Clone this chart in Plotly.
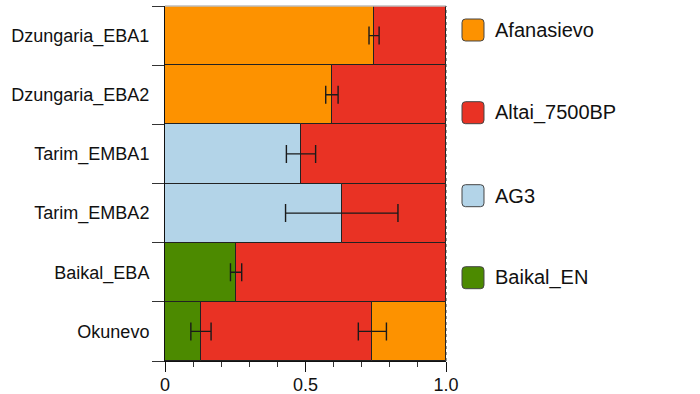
import plotly.graph_objects as go

# ---------------- data ----------------
populations = ["Dzungaria_EBA1", "Dzungaria_EBA2", "Tarim_EMBA1",
               "Tarim_EMBA2", "Baikal_EBA", "Okunevo"]
components = ["Afanasievo", "Altai_7500BP", "AG3", "Baikal_EN"]

afanasievo = [0.744, 0.594, 0.0, 0.0, 0.0, 0.262]
altai_7500bp = [0.256, 0.406, 0.516, 0.371, 0.747, 0.610]
ag3 = [0.0, 0.0, 0.484, 0.629, 0.0, 0.0]
baikal_en = [0.0, 0.0, 0.0, 0.0, 0.253, 0.128]

# left-to-right order of the components within each row
row_order = [
    ["Afanasievo", "Altai_7500BP"],
    ["Afanasievo", "Altai_7500BP"],
    ["AG3", "Altai_7500BP"],
    ["AG3", "Altai_7500BP"],
    ["Baikal_EN", "Altai_7500BP"],
    ["Baikal_EN", "Altai_7500BP", "Afanasievo"],
]

# standard errors: (row, component whose right edge carries the bar, se)
se_rows = ["Dzungaria_EBA1", "Dzungaria_EBA2", "Tarim_EMBA1",
           "Tarim_EMBA2", "Baikal_EBA", "Okunevo", "Okunevo"]
se_component = ["Afanasievo", "Afanasievo", "AG3", "AG3",
                "Baikal_EN", "Baikal_EN", "Altai_7500BP"]
se_values = [0.018, 0.022, 0.052, 0.20, 0.02, 0.036, 0.05]

tick_vals = [0, 0.5, 1.0]
tick_text = ["0", "0.5", "1.0"]

# ---------------- styles ----------------
colors = {
    "Afanasievo": "rgb(253,146,0)",
    "Altai_7500BP": "rgb(233,50,36)",
    "AG3": "rgb(179,212,232)",
    "Baikal_EN": "rgb(76,138,0)",
}
values = {
    "Afanasievo": afanasievo,
    "Altai_7500BP": altai_7500bp,
    "AG3": ag3,
    "Baikal_EN": baikal_en,
}

FONT = "Liberation Sans, Arial, Helvetica, sans-serif"
W, H = 700, 394
L, R, T, B = 165, 254, 6, 33
PW, PH = W - L - R, H - T - B


def px_x(px):
    return (px - L) / PW


def px_y(py):
    return (H - B - py) / PH


# compute bases per row
bases = {c: [0.0] * len(populations) for c in components}
for i, order in enumerate(row_order):
    acc = 0.0
    for c in order:
        bases[c][i] = acc
        acc += values[c][i]

fig = go.Figure()
for c in components:
    fig.add_trace(go.Bar(
        y=populations, x=values[c], base=bases[c], orientation="h",
        name=c, showlegend=False,
        marker=dict(color=colors[c], line=dict(color="#222222", width=1)),
    ))

# error bars at component right edges
err_x = []
for r, c in zip(se_rows, se_component):
    i = populations.index(r)
    err_x.append(bases[c][i] + values[c][i])
fig.add_trace(go.Scatter(
    x=err_x, y=se_rows, mode="markers", showlegend=False,
    marker=dict(size=1, color="rgba(0,0,0,0)"),
    error_x=dict(type="data", array=se_values, visible=True,
                 color="#1a1a1a", thickness=1.4, width=9),
    hoverinfo="skip",
))

shapes = [
    dict(type="line", xref="paper", yref="paper", x0=0, x1=1, y0=1, y1=1,
         line=dict(color="rgb(190,190,190)", width=1.5), layer="above"),
    dict(type="line", xref="paper", yref="paper", x0=1, x1=1, y0=0, y1=1,
         line=dict(color="#333333", width=1, dash="dot"), layer="above"),
]
annotations = []
legend_y = [30, 112.7, 195.7, 277.7]
for c, cy in zip(components, legend_y):
    x0, x1 = 462, 484
    y0, y1 = cy - 11, cy + 11
    r = 3.5

    def P(a, b):
        return f"{px_x(a):.5f},{px_y(b):.5f}"
    path = (f"M {P(x0 + r, y0)} L {P(x1 - r, y0)} Q {P(x1, y0)} {P(x1, y0 + r)} "
            f"L {P(x1, y1 - r)} Q {P(x1, y1)} {P(x1 - r, y1)} "
            f"L {P(x0 + r, y1)} Q {P(x0, y1)} {P(x0, y1 - r)} "
            f"L {P(x0, y0 + r)} Q {P(x0, y0)} {P(x0 + r, y0)} Z")
    shapes.append(dict(type="path", xref="paper", yref="paper", path=path,
                       fillcolor=colors[c], line=dict(color="#444444", width=1)))
    annotations.append(dict(xref="paper", yref="paper", x=px_x(493), y=px_y(cy),
                            text=c, showarrow=False, xanchor="left", yanchor="middle",
                            font=dict(family=FONT, size=20, color="#111111")))

fig.update_layout(
    width=W, height=H,
    margin=dict(l=L, r=R, t=T, b=B, autoexpand=False),
    barmode="overlay", bargap=0,
    plot_bgcolor="white", paper_bgcolor="white",
    font=dict(family=FONT, color="#111111"),
    shapes=shapes, annotations=annotations,
    showlegend=False,
)
fig.update_yaxes(
    automargin=False,
    categoryorder="array", categoryarray=populations[::-1],
    tickson="boundaries", ticks="outside", ticklen=12, tickwidth=1,
    tickcolor="#333333", showline=True, linecolor="#111111", linewidth=1,
    showgrid=False, zeroline=False, ticklabelstandoff=11,
    tickfont=dict(family=FONT, size=18, color="#111111"),
)
fig.update_xaxes(
    automargin=False,
    range=[0, 1], tickvals=tick_vals, ticktext=tick_text,
    ticks="outside", ticklen=10, tickwidth=1, tickcolor="#111111",
    minor=dict(dtick=0.1, ticks="outside", ticklen=5, tickcolor="#333333", showgrid=False),
    showline=True, linecolor="#111111", linewidth=1,
    showgrid=False, zeroline=False, ticklabelstandoff=-3,
    tickfont=dict(family=FONT, size=18, color="#111111"),
)

fig.write_html(
    "out.html",
    config={"displayModeBar": False},
    post_script="document.body.style.margin='0';document.body.style.overflow='hidden';",
)
